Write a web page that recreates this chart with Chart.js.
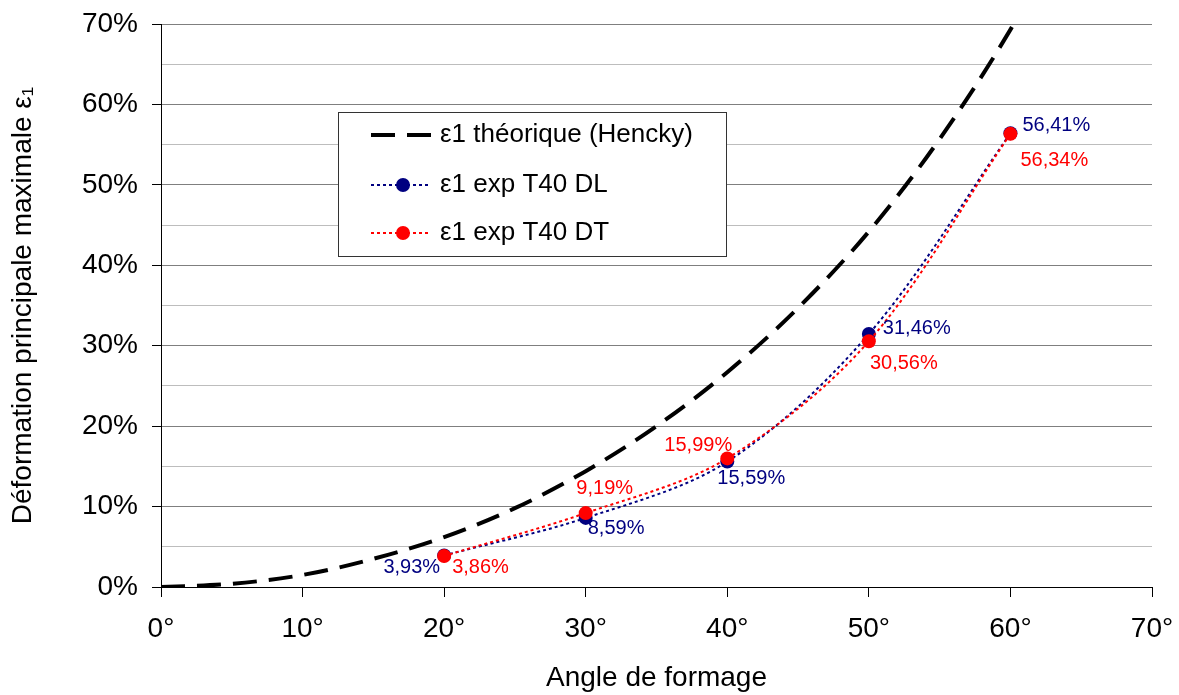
<!DOCTYPE html>
<html>
<head>
<meta charset="utf-8">
<script src="https://cdn.jsdelivr.net/npm/chart.js@4.4.0/dist/chart.umd.min.js"></script>
<style>
html, body { margin: 0; padding: 0; background: #fff; }
#wrap { width: 1179px; height: 695px; }
</style>
</head>
<body>
<div id="wrap"><canvas id="chart" width="1179" height="695"></canvas></div>
<script>
// values (percent)
const angles = [20, 30, 40, 50, 60];
const expDL = [3.93, 8.59, 15.59, 31.46, 56.41];
const expDT = [3.86, 9.19, 15.99, 30.56, 56.34];
const henckyAngles = [0, 5, 10, 15, 20, 25, 30, 35, 40, 45, 50, 55, 60, 60.5];
const henckyValues = [0, 0.4, 1.5, 3.5, 6.2, 9.8, 14.4, 20.0, 26.7, 34.7, 44.2, 55.7, 69.3, 70.9];
const labels = ["ε1 théorique (Hencky)", "ε1 exp T40 DL", "ε1 exp T40 DT"];

const FONT = "'Liberation Sans', Arial, sans-serif";

function pts(xs, ys) {
    return xs.map((x, i) => ({ x: x, y: ys[i] }));
}
function fmt(v) {
    return v.toFixed(2).replace(".", ",") + "%";
}

// where each value label sits relative to its point
const labelPlacement = {
    1: [
        { dx: -4, dy: 12, align: "right" },
        { dx: 2, dy: 11, align: "left" },
        { dx: 24, dy: 17, align: "center" },
        { dx: 14, dy: -5, align: "left" },
        { dx: 12, dy: -8, align: "left" }
    ],
    2: [
        { dx: 8, dy: 12, align: "left" },
        { dx: 19, dy: -25, align: "center" },
        { dx: -29, dy: -13, align: "center" },
        { dx: 35, dy: 22, align: "center" },
        { dx: 10, dy: 27, align: "left" }
    ]
};

const valueLabels = {
    id: "valueLabels",
    afterDatasetsDraw(chart) {
        const ctx = chart.ctx;
        ctx.save();
        ctx.font = "20px " + FONT;
        ctx.textBaseline = "middle";
        Object.keys(labelPlacement).forEach(k => {
            const ds = chart.data.datasets[k];
            const meta = chart.getDatasetMeta(k);
            meta.data.forEach((el, i) => {
                const p = labelPlacement[k][i];
                ctx.fillStyle = ds.borderColor;
                ctx.textAlign = p.align;
                ctx.fillText(fmt(ds.data[i].y), el.x + p.dx, el.y + p.dy);
            });
        });
        ctx.restore();
    }
};

const boxLegend = {
    id: "boxLegend",
    afterDraw(chart) {
        const ctx = chart.ctx;
        const bx = 338, by = 112, bw = 388, bh = 144;
        ctx.save();
        ctx.fillStyle = "#fff";
        ctx.fillRect(bx, by, bw, bh);
        ctx.strokeStyle = "#333";
        ctx.lineWidth = 1;
        ctx.strokeRect(bx + 0.5, by + 0.5, bw, bh);
        const rows = [135, 185, 233];
        chart.data.datasets.forEach((ds, i) => {
            const y = rows[i];
            ctx.strokeStyle = ds.borderColor;
            ctx.lineWidth = ds.borderWidth;
            ctx.setLineDash(ds.borderDash || []);
            ctx.beginPath();
            ctx.moveTo(371, y);
            ctx.lineTo(431, y);
            ctx.stroke();
            ctx.setLineDash([]);
            if (ds.pointRadius > 0) {
                ctx.fillStyle = ds.pointBackgroundColor;
                ctx.beginPath();
                ctx.arc(403, y, ds.pointRadius, 0, Math.PI * 2);
                ctx.fill();
            }
            ctx.fillStyle = "#000";
            ctx.font = "26px " + FONT;
            ctx.textAlign = "left";
            ctx.textBaseline = "middle";
            ctx.fillText(ds.label, 440, y);
        });
        ctx.restore();
    }
};

new Chart(document.getElementById("chart"), {
    type: "line",
    data: {
        datasets: [
            {
                label: labels[0],
                data: pts(henckyAngles, henckyValues),
                borderColor: "#000",
                borderWidth: 4,
                borderDash: [24, 12],
                pointRadius: 0,
                cubicInterpolationMode: "monotone",
                clip: { left: 0, top: 10, right: 0, bottom: 0 },
                order: 2
            },
            {
                label: labels[1],
                data: pts(angles, expDL),
                borderColor: "#000080",
                borderWidth: 2,
                borderDash: [3, 3],
                pointRadius: 7,
                pointBorderWidth: 0,
                pointBackgroundColor: "#000080",
                tension: 0.33,
                order: 1
            },
            {
                label: labels[2],
                data: pts(angles, expDT),
                borderColor: "#ff0000",
                borderWidth: 2,
                borderDash: [3, 3],
                pointRadius: 7,
                pointBorderWidth: 0,
                pointBackgroundColor: "#ff0000",
                tension: 0.33,
                order: 0
            }
        ]
    },
    options: {
        responsive: false,
        devicePixelRatio: 1,
        animation: false,
        layout: { padding: { top: 24, right: 27, left: 0, bottom: 0 } },
        plugins: { legend: { display: false }, tooltip: { enabled: false } },
        scales: {
            x: {
                type: "linear",
                min: 0,
                max: 70,
                afterFit: s => { s.height = 108; s.paddingLeft = 0; s.paddingRight = 0; },
                ticks: {
                    stepSize: 10,
                    color: "#000",
                    font: { family: FONT, size: 28 },
                    padding: 15,
                    maxRotation: 0,
                    callback: v => v + "°"
                },
                grid: { drawOnChartArea: false, tickLength: 10, tickColor: "#000" },
                border: { color: "#000", width: 1 },
                title: {
                    display: true,
                    text: "Angle de formage",
                    color: "#000",
                    font: { family: FONT, size: 28 },
                    padding: { top: 0, bottom: 0 }
                }
            },
            y: {
                min: 0,
                max: 70,
                afterFit: s => { s.width = 161; s.paddingTop = 0; s.paddingBottom = 0; },
                ticks: {
                    stepSize: 5,
                    color: "#000",
                    font: { family: FONT, size: 28 },
                    padding: 14,
                    callback: v => (v % 10 === 0 ? v + "%" : "")
                },
                grid: {
                    color: c => (c.tick && c.tick.value % 10 === 0 ? "#7f7f7f" : "#bdbdbd"),
                    tickColor: c => (c.tick && c.tick.value % 10 === 0 ? "#000" : "rgba(0,0,0,0)"),
                    tickLength: 9,
                    lineWidth: 1
                },
                border: { color: "#000", width: 1 },
                title: {
                    display: true,
                    text: "Déformation principale maximale ε₁",
                    color: "#000",
                    font: { family: FONT, size: 28 },
                    padding: { top: 6, bottom: 0 }
                }
            }
        }
    },
    plugins: [valueLabels, boxLegend]
});
</script>
</body>
</html>
